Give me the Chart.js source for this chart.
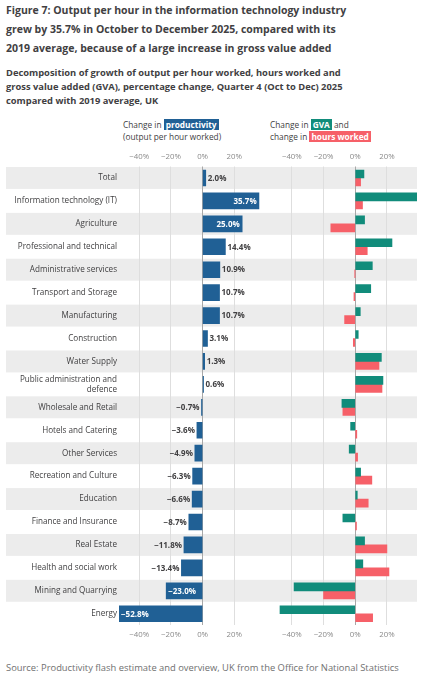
<!DOCTYPE html>
<html>
<head>
<meta charset="utf-8">
<title>Figure 7</title>
<script src="https://cdn.jsdelivr.net/npm/chart.js@4.4.1/dist/chart.umd.min.js"></script>
<style>
    body {
        margin: 0;
        width: 438px;
        height: 680px;
        position: relative;
        overflow: hidden;
        background: #fff;
        font-family: "Open Sans", sans-serif;
        color: #414042;
    }
    .title {
        position: absolute;
        left: 6px;
        top: 1px;
        font-size: 10.5px;
        font-weight: 700;
        line-height: 18.8px;
    }
    .subtitle {
        position: absolute;
        left: 6px;
        top: 65.5px;
        font-size: 9.35px;
        font-weight: 700;
        line-height: 14.4px;
    }
    .hdr {
        position: absolute;
        top: 119px;
        font-size: 8.3px;
        line-height: 12px;
        white-space: nowrap;
    }
    .tag {
        color: #fff;
        font-weight: 700;
        padding: 0 2px;
    }
    .box {
        position: absolute;
        top: 145px;
        height: 505px;
    }
    .source {
        position: absolute;
        left: 6px;
        top: 661px;
        font-size: 9.4px;
        color: #707070;
        white-space: nowrap;
    }
</style>
</head>
<body>

<div class="title">Figure 7: Output per hour in the information technology industry<br>grew by 35.7% in October to December 2025, compared with its<br>2019 average, because of a large increase in gross value added</div>
<div class="subtitle">Decomposition of growth of output per hour worked, hours worked and<br>gross value added (GVA), percentage change, Quarter 4 (Oct to Dec) 2025<br>compared with 2019 average, UK</div>

<div class="hdr" style="left:123px">Change in <span class="tag" style="background:#206095">productivity</span><br>(output per hour worked)</div>
<div class="hdr" style="left:270px">Change in <span class="tag" style="background:#118c7b">GVA</span> and<br>change in <span class="tag" style="background:#f66068">hours worked</span></div>

<div class="box" style="left:0; width:270px"><canvas id="leftChart"></canvas></div>
<div class="box" style="left:270px; width:168px"><canvas id="rightChart"></canvas></div>

<div class="source">Source: Productivity flash estimate and overview, UK from the Office for National Statistics</div>

<script>
// Data
const categories = [
    'Total', 'Information technology (IT)', 'Agriculture', 'Professional and technical',
    'Administrative services', 'Transport and Storage', 'Manufacturing', 'Construction',
    'Water Supply', ['Public administration and', 'defence'], 'Wholesale and Retail',
    'Hotels and Catering', 'Other Services', 'Recreation and Culture', 'Education',
    'Finance and Insurance', 'Real Estate', 'Health and social work', 'Mining and Quarrying', 'Energy'
];
const productivity = [2.0, 35.7, 25.0, 14.4, 10.9, 10.7, 10.7, 3.1, 1.3, 0.6, -0.7, -3.6, -4.9, -6.3, -6.6, -8.7, -11.8, -13.4, -23.0, -52.8];
const gva = [5.5, 41.9, 5.9, 23.2, 10.8, 9.8, 3.2, 1.9, 16.5, 17.5, -8.4, -2.9, -3.8, 3.4, 1.3, -7.8, 5.9, 4.8, -38.6, -47.7];
const hoursWorked = [3.4, 4.6, -15.4, 7.6, -0.1, -0.8, -6.7, -1.2, 15.0, 16.9, -7.8, 1.0, 1.5, 10.5, 8.2, 0.8, 20.0, 21.3, -20.0, 11.0];
const tickValues = [-40, -20, 0, 20];

const BLUE = '#206095';
const GREEN = '#118c7b';
const RED = '#f66068';
const TEXT = '#414042';

Chart.defaults.font.family = '"Open Sans", sans-serif';
Chart.defaults.color = TEXT;

function pct(v) {
    return (v < 0 ? '\u2212' : '') + Math.abs(v) + '%';
}

// grey stripes behind every other row
const bands = {
    id: 'bands',
    beforeDraw(chart, args, opts) {
        const ctx = chart.ctx;
        const y = chart.scales.y;
        const area = chart.chartArea;
        const rowH = (area.bottom - area.top) / categories.length;
        ctx.save();
        ctx.fillStyle = '#ececec';
        categories.forEach((c, i) => {
            if (i % 2) return;
            const cy = y.getPixelForValue(i);
            ctx.fillRect(opts.from, cy - rowH / 2 + 0.5, opts.to - opts.from, rowH - 1);
        });
        ctx.restore();
    }
};

// value labels on the productivity bars
const valueLabels = {
    id: 'valueLabels',
    afterDatasetsDraw(chart) {
        const ctx = chart.ctx;
        const meta = chart.getDatasetMeta(0);
        ctx.save();
        ctx.font = 'bold 8px "Open Sans"';
        ctx.textBaseline = 'middle';
        meta.data.forEach((bar, i) => {
            const v = productivity[i];
            const txt = (v < 0 ? '\u2212' : '') + Math.abs(v).toFixed(1) + '%';
            const w = ctx.measureText(txt).width;
            const inside = Math.abs(bar.x - bar.base) > w + 5;
            if (v >= 0) {
                ctx.textAlign = inside ? 'right' : 'left';
                ctx.fillStyle = inside ? '#fff' : TEXT;
                ctx.fillText(txt, inside ? bar.x - 2.5 : bar.x + 2, bar.y + 0.5);
            } else {
                ctx.textAlign = inside ? 'left' : 'right';
                ctx.fillStyle = inside ? '#fff' : TEXT;
                ctx.fillText(txt, inside ? bar.x + 2 : bar.x - 2, bar.y + 0.5);
            }
        });
        ctx.restore();
    }
};

function xAxes(min, max) {
    const fixTicks = s => { s.ticks = tickValues.map(v => ({ value: v })); };
    const noPad = s => { s.paddingLeft = 0; s.paddingRight = 0; };
    const tickOpts = { color: '#8a8a8a', font: { size: 7.8 }, callback: v => pct(v) };
    return {
        x: {
            type: 'linear', position: 'bottom', min: min, max: max,
            afterBuildTicks: fixTicks,
            afterFit: s => { noPad(s); s.height = 24.8; },
            border: { display: false },
            grid: {
                drawTicks: false,
                color: c => (c.tick && c.tick.value === 0) ? '#a8a8a8' : '#dedede',
                lineWidth: 1
            },
            ticks: Object.assign({ padding: 5 }, tickOpts)
        },
        x2: {
            type: 'linear', position: 'top', min: min, max: max,
            afterBuildTicks: fixTicks,
            afterFit: s => { noPad(s); s.height = 21.5; },
            border: { display: false },
            grid: { display: false, drawTicks: false },
            ticks: Object.assign({ padding: 5 }, tickOpts)
        }
    };
}

// left panel: productivity
const leftScales = xAxes(-52.8, 36);
leftScales.y = {
    type: 'category',
    afterFit: s => { s.width = 119; },
    border: { display: false },
    grid: { display: false, drawTicks: false },
    ticks: { padding: 2, color: TEXT, font: { size: 8.15 } }
};

new Chart(document.getElementById('leftChart'), {
    type: 'bar',
    data: {
        labels: categories,
        datasets: [{
            label: 'Change in productivity',
            data: productivity,
            backgroundColor: BLUE,
            barThickness: 16
        }]
    },
    options: {
        indexAxis: 'y',
        responsive: true,
        maintainAspectRatio: false,
        animation: false,
        layout: { padding: { left: 0, right: 10.4, top: 0, bottom: 0 } },
        scales: leftScales,
        plugins: {
            legend: { display: false },
            tooltip: { enabled: false },
            bands: { from: 6, to: 270 }
        }
    },
    plugins: [bands, valueLabels]
});

// right panel: GVA and hours worked
const rightScales = xAxes(-47.8, 39);
rightScales.y = { type: 'category', display: false };

new Chart(document.getElementById('rightChart'), {
    type: 'bar',
    data: {
        labels: categories,
        datasets: [
            { label: 'Change in GVA', data: gva, backgroundColor: GREEN, barThickness: 8 },
            { label: 'Change in hours worked', data: hoursWorked, backgroundColor: RED, barThickness: 8 }
        ]
    },
    options: {
        indexAxis: 'y',
        responsive: true,
        maintainAspectRatio: false,
        animation: false,
        layout: { padding: { left: 9.5, right: 21, top: 0, bottom: 0 } },
        scales: rightScales,
        plugins: {
            legend: { display: false },
            tooltip: { enabled: false },
            bands: { from: 0, to: 147 }
        }
    },
    plugins: [bands]
});
</script>
</body>
</html>
